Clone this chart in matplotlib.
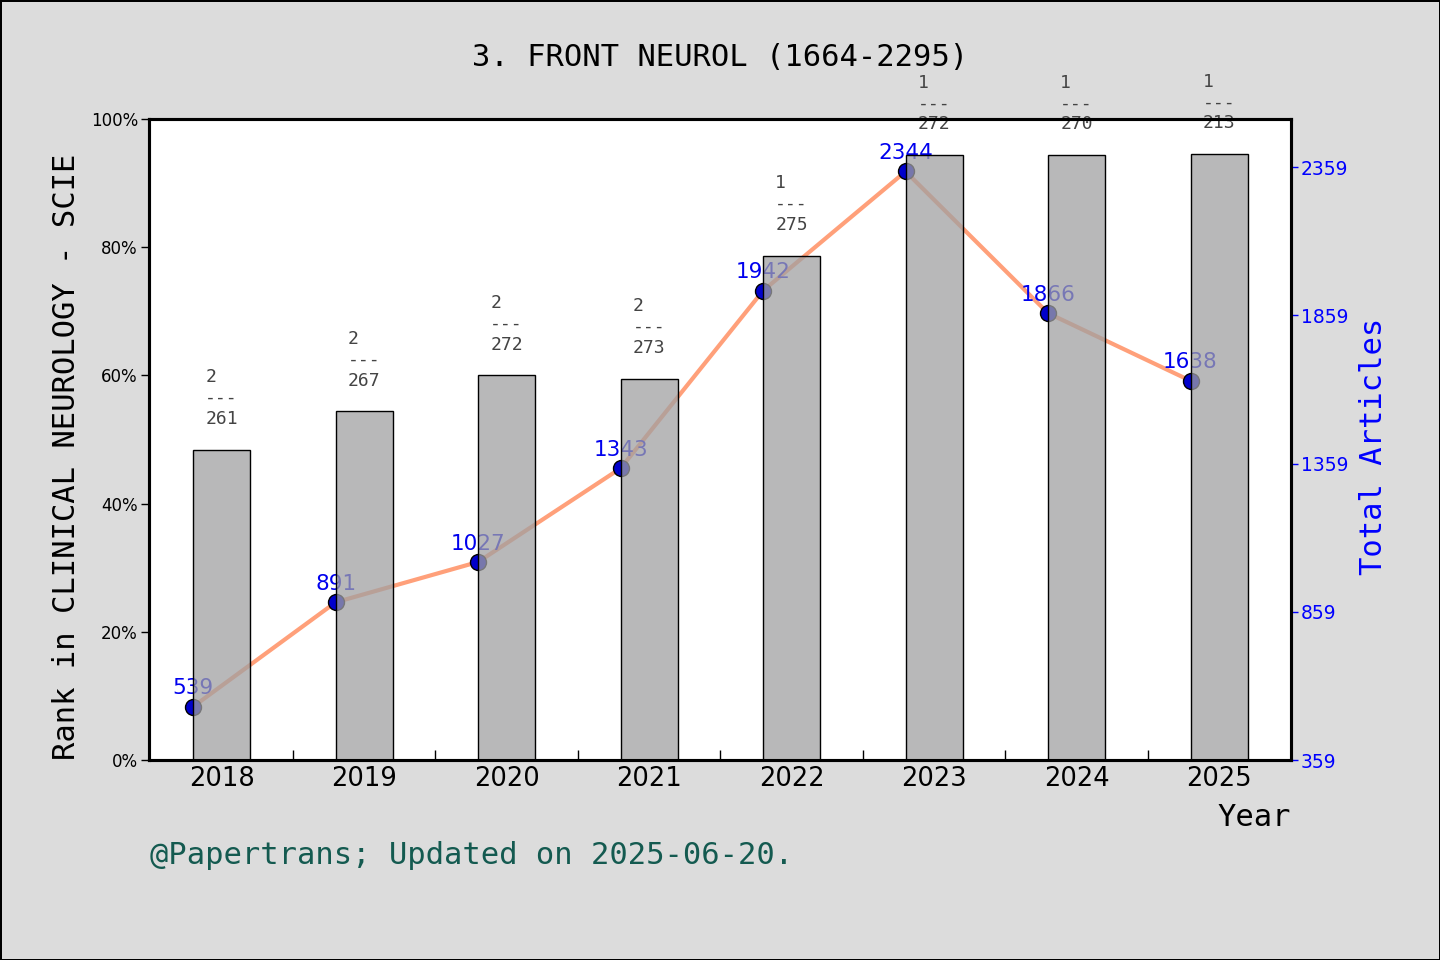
import numpy as np
import matplotlib
matplotlib.use("Agg")
import matplotlib.pyplot as plt
from matplotlib.ticker import PercentFormatter

# === Data ===
years = ["2018", "2019", "2020", "2021", "2022", "2023", "2024", "2025"]
rank = [2, 2, 2, 2, 1, 1, 1, 1]
journals_in_cat = [261, 267, 272, 273, 275, 272, 270, 213]
bar_pct = [48.4, 54.4, 60.0, 59.5, 78.7, 94.4, 94.4, 94.5]
articles = [539, 891, 1027, 1343, 1942, 2344, 1866, 1638]
right_ticks = [359, 859, 1359, 1859, 2359]

mono = "DejaVu Sans Mono"

fig = plt.figure(figsize=(14.4, 9.6), dpi=100)
fig.patch.set_facecolor("#DCDCDC")
fig.patch.set_edgecolor("black")
fig.patch.set_linewidth(2)

ax = fig.add_axes([149 / 1440, 200 / 960, 1142 / 1440, 641 / 960])
ax2 = ax.twinx()

# bars sit on top of the line axes
ax.set_zorder(ax2.get_zorder() + 1)
ax.patch.set_visible(False)
ax2.patch.set_visible(True)
ax2.patch.set_facecolor("white")

x = np.arange(len(years))

# === Line (right axis) ===
ax2.plot(x, articles, color="#FFA07A", linewidth=3, zorder=2)
ax2.plot(x, articles, linestyle="none", marker="o", markersize=11.5,
         markerfacecolor="#0000CC", markeredgecolor="black",
         markeredgewidth=1, zorder=3)
for xi, v in zip(x, articles):
    ax2.annotate(str(v), (xi, v), xytext=(0, 6), textcoords="offset points",
                 ha="center", va="bottom", fontsize=15.5, color="#0000EE",
                 zorder=4)

ax2.set_ylim(359, 2521)
ax2.set_yticks(right_ticks)
ax2.tick_params(axis="y", colors="blue", labelsize=13.5, length=5, width=1,
                direction="out", pad=2)

# === Bars (left axis) ===
bar_face = (160 / 255, 160 / 255, 162 / 255, 0.75)
ax.bar(x, bar_pct, width=0.4, align="edge", facecolor=bar_face,
       edgecolor="black", linewidth=1, zorder=2)
for xi, h, r, t in zip(x, bar_pct, rank, journals_in_cat):
    ax.text(xi + 0.2, h + 3.4, f"{r}\n---\n{t}", ha="center", va="bottom",
            multialignment="left", fontsize=13, color="#444444",
            linespacing=1.2, zorder=1, clip_on=False, family=mono)

ax.set_ylim(0, 100)
ax.set_xlim(-0.31, 7.705)
ax.yaxis.set_major_formatter(PercentFormatter(decimals=0))
ax.set_yticks([0, 20, 40, 60, 80, 100])
ax.tick_params(axis="y", labelsize=12, length=6, width=1, direction="out", pad=2)

ax.set_xticks(x + 0.2)
ax.set_xticklabels(years)
ax.tick_params(axis="x", which="major", length=0, labelsize=18.5, pad=4)
ax.set_xticks(x[:-1] + 0.7, minor=True)
ax.tick_params(axis="x", which="minor", length=7, width=1, direction="in")

for a in (ax, ax2):
    for s in a.spines.values():
        s.set_linewidth(2.2)
        s.set_color("black")

# === Texts ===
fig.text(720 / 1440, 1 - 57 / 960, "3. FRONT NEUROL (1664-2295)",
         ha="center", va="center", fontsize=22, family=mono)
fig.text(67 / 1440, 1 - 457 / 960, "Rank in CLINICAL NEUROLOGY - SCIE",
         ha="center", va="center", rotation=90, fontsize=22, family=mono)
fig.text(1374 / 1440, 1 - 446 / 960, "Total Articles",
         ha="center", va="center", rotation=90, fontsize=22, family=mono,
         color="blue")
fig.text(1254 / 1440, 1 - 817 / 960, "Year",
         ha="center", va="center", fontsize=22, family=mono)
fig.text(150 / 1440, 1 - 855 / 960, "@Papertrans; Updated on 2025-06-20.",
         ha="left", va="center", fontsize=22, family=mono, color="#145A50")

fig.savefig("out.png", dpi=100, facecolor=fig.get_facecolor(),
            edgecolor=fig.get_edgecolor())
